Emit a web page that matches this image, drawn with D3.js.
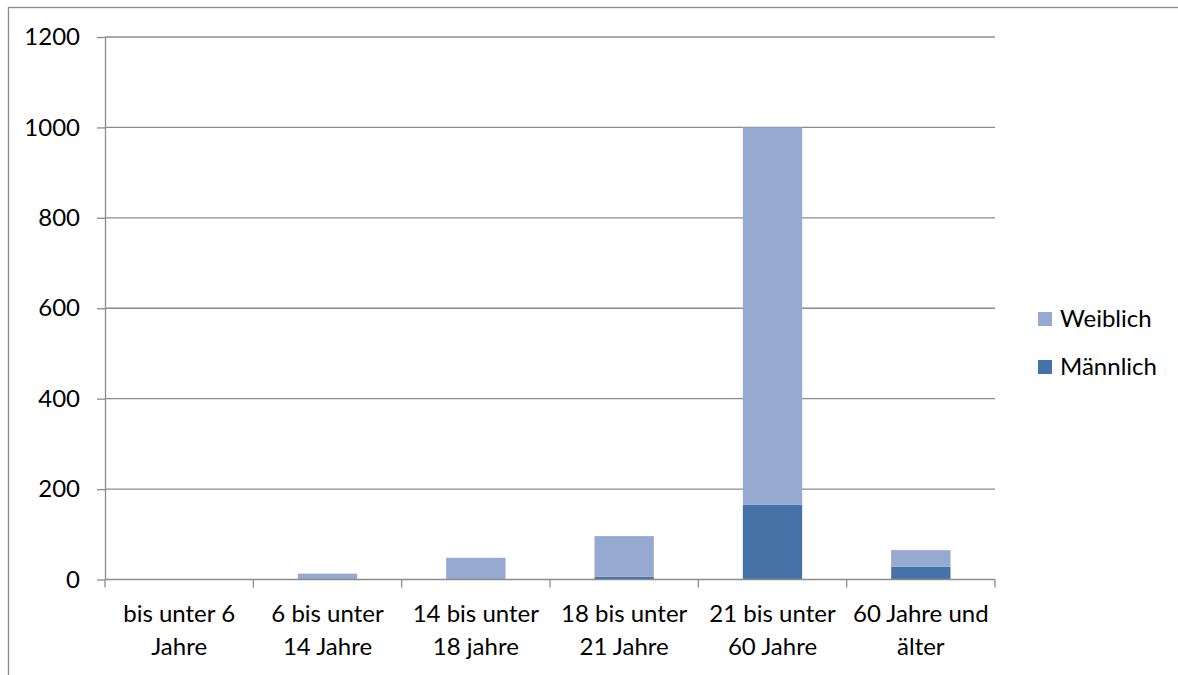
<!DOCTYPE html>
<html><head><meta charset="utf-8">
<script src="https://cdn.jsdelivr.net/npm/d3@7"></script>
<style>body{margin:0;background:#fff}svg{display:block}text{font-family:Lato,"Open Sans",sans-serif;fill:#000}</style>
</head><body><svg id="c" width="1178" height="675"></svg>
<script>
const categories = [["bis unter 6","Jahre"],["6 bis unter","14 Jahre"],["14 bis unter","18 jahre"],["18 bis unter","21 Jahre"],["21 bis unter","60 Jahre"],["60 Jahre und","älter"]];
const maennlich = [0, 0, 0, 6, 165, 28];
const weiblich = [0, 13, 48, 90, 835, 37];
const yTicks = [0, 200, 400, 600, 800, 1000, 1200];
const seriesNames = ["Männlich", "Weiblich"];
const colors = {"Männlich": "#4573A7", "Weiblich": "#95A9D1"};

const svg = d3.select("#c");
const L = 105, R = 995, T = 37, B = 579.5;
const fs = 24;
// frame
svg.append("rect").attr("x", 8.5).attr("y", 7.5).attr("width", 1200).attr("height", 700)
  .attr("fill", "none").attr("stroke", "#8c8c8c").attr("stroke-width", 1.3);

const x = d3.scaleBand().domain(categories.map((d, i) => i)).range([L, R]).paddingInner(0.6).paddingOuter(0.3);
const xb = d3.scaleBand().domain(categories.map((d, i) => i)).range([L, R]);
const y = d3.scaleLinear().domain([0, 1200]).range([B, T]);

// gridlines
svg.append("g").selectAll("line").data(yTicks.filter(t => t > 0)).join("line")
  .attr("x1", L).attr("x2", R).attr("y1", d => y(d)).attr("y2", d => y(d))
  .attr("stroke", "#8c8c8c").attr("stroke-width", 1.3);

// stacked bars
const rows = categories.map((c, i) => ({i, "Männlich": maennlich[i], "Weiblich": weiblich[i]}));
const stack = d3.stack().keys(seriesNames)(rows);
svg.append("g").selectAll("g").data(stack).join("g").attr("fill", d => colors[d.key])
  .selectAll("rect").data(d => d).join("rect")
  .attr("x", d => x(d.data.i)).attr("width", x.bandwidth())
  .attr("y", d => y(d[1])).attr("height", d => y(d[0]) - y(d[1]));

// y axis
const ya = svg.append("g").attr("transform", `translate(${L},0)`)
  .call(d3.axisLeft(y).tickValues(yTicks).tickFormat(d3.format("d")).tickSize(8).tickPadding(17).tickSizeOuter(0));
ya.select(".domain").attr("stroke", "#8c8c8c").attr("stroke-width", 1.3);
ya.selectAll(".tick line").attr("stroke", "#8c8c8c").attr("stroke-width", 1.3);
ya.selectAll("text").attr("font-size", fs).attr("font-family", "Lato").attr("fill", "#000");

// x axis
const xa = svg.append("g").attr("transform", `translate(0,${B})`);
xa.append("line").attr("x1", L).attr("x2", R).attr("stroke", "#8c8c8c").attr("stroke-width", 1.3);
const bounds = categories.map((d, i) => xb(i)).concat([R]);
xa.selectAll("line.t").data(bounds).join("line").attr("class", "t")
  .attr("x1", d => d).attr("x2", d => d).attr("y1", 0).attr("y2", 8)
  .attr("stroke", "#8c8c8c").attr("stroke-width", 1.3);
const lab = xa.selectAll("text.l").data(categories).join("text").attr("class", "l")
  .attr("text-anchor", "middle").attr("font-size", fs)
  .attr("x", (d, i) => xb(i) + xb.bandwidth() / 2);
lab.selectAll("tspan").data(d => d).join("tspan")
  .attr("x", function() { return this.parentNode.getAttribute("x"); })
  .attr("y", (d, j) => 42 + j * 33).text(d => d);

// legend
const leg = svg.append("g");
const legItems = ["Weiblich", "Männlich"];
legItems.forEach((k, j) => {
  const yy = 312 + j * 48;
  leg.append("rect").attr("x", 1038).attr("y", yy).attr("width", 14).attr("height", 14).attr("fill", colors[k]);
  leg.append("text").attr("x", 1060).attr("y", yy + 14.5).attr("font-size", fs).text(k);
});
</script></body></html>
